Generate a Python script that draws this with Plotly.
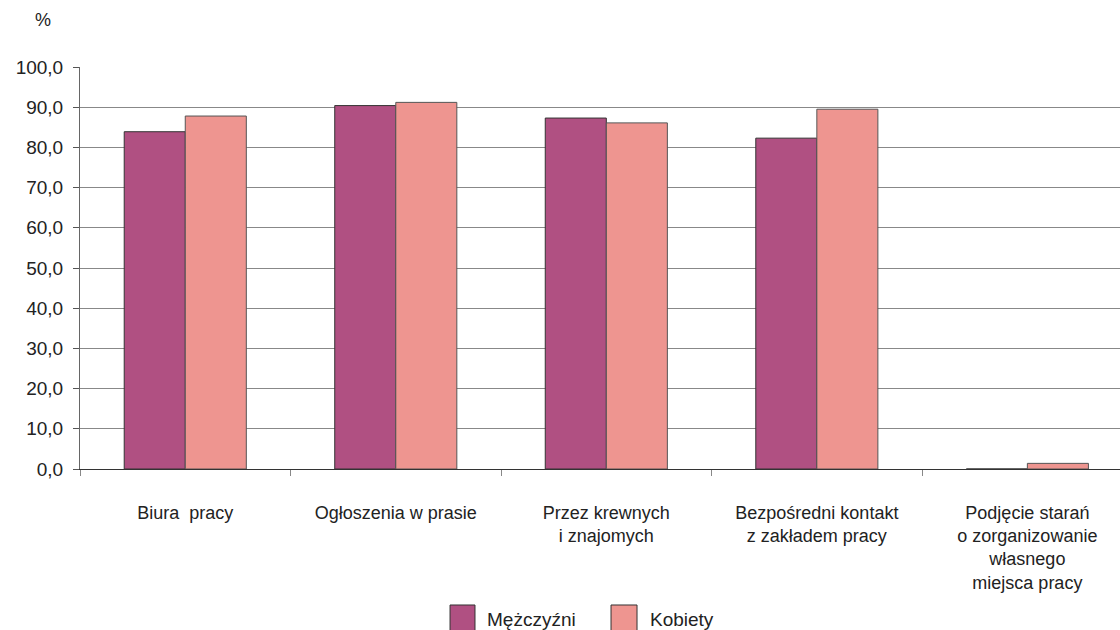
import plotly.graph_objects as go

categories = ["Biura  pracy", "Ogłoszenia w prasie", "Przez krewnych<br>i znajomych",
              "Bezpośredni kontakt<br>z zakładem pracy",
              "Podjęcie starań<br>o zorganizowanie<br>własnego<br>miejsca pracy"]
series_names = ["Mężczyźni", "Kobiety"]
men = [83.9, 90.4, 87.3, 82.3, 0.0]
women = [87.8, 91.2, 86.1, 89.5, 1.4]
yticks = [0, 10, 20, 30, 40, 50, 60, 70, 80, 90, 100]
colors = ["#B05082", "#EE9590"]

font = "Liberation Sans, Arial, sans-serif"
fig = go.Figure()
fig.add_bar(x=categories, y=men, name=series_names[0],
            marker=dict(color=colors[0], line=dict(color="#333333", width=1)))
fig.add_bar(x=categories, y=women, name=series_names[1],
            marker=dict(color=colors[1], line=dict(color="#555555", width=1)))

# manual legend (paper coordinates)
shapes = []
annotations = [dict(text="%", xref="paper", yref="paper", x=-0.0356, y=1.117,
                    xanchor="center", yanchor="middle",
                    showarrow=False, font=dict(size=18))]
leg = [(0.3558, 0.3798, 0.3894), (0.5106, 0.5356, 0.546)]
for (x0, x1, xt), c, n in zip(leg, colors, series_names):
    shapes.append(dict(type="rect", xref="paper", yref="paper", x0=x0, x1=x1,
                       y0=-0.4055, y1=-0.3383, fillcolor=c,
                       line=dict(color="#333333", width=1)))
    annotations.append(dict(text=n, xref="paper", yref="paper", x=xt, y=-0.3756,
                            xanchor="left", yanchor="middle", showarrow=False,
                            font=dict(size=19)))

fig.update_layout(
    width=1120, height=630,
    margin=dict(l=80, r=0, t=67, b=161, autoexpand=False),
    plot_bgcolor="white", paper_bgcolor="white",
    barmode="group", bargap=0.42, bargroupgap=0,
    separators=", ",
    font=dict(family=font, size=18, color="#222222"),
    showlegend=False,
    xaxis=dict(range=[-0.5, 4.44], showline=True, linecolor="#333333", linewidth=1,
               ticks="outside", tickson="boundaries", ticklen=6, tickcolor="#888888",
               tickfont=dict(size=18), showgrid=False, ticklabelstandoff=27,
               automargin=False),
    yaxis=dict(range=[0, 100], tickvals=yticks, tickformat=".1f", showline=True,
               linecolor="#666666", linewidth=1, ticks="outside", ticklen=6,
               tickcolor="#555555", gridcolor="#888888", gridwidth=1,
               tickfont=dict(size=19), zeroline=False, ticklabelstandoff=6,
               automargin=False),
    shapes=shapes,
    annotations=annotations,
)
fig.write_html("out.html", config={"displayModeBar": False},
               post_script="document.body.style.margin='0px';")
